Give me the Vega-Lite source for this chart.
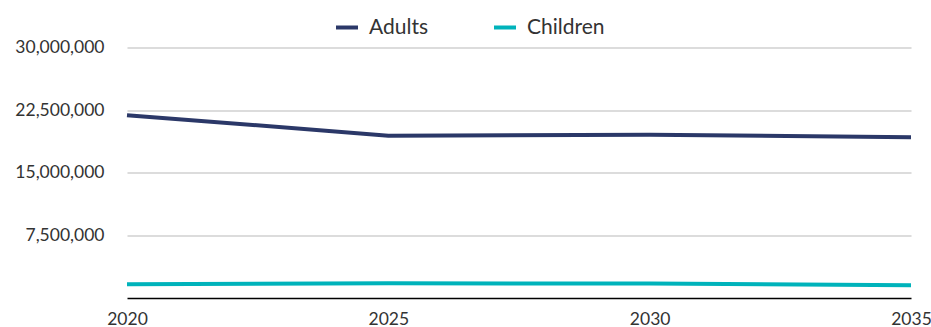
{
  "$schema": "https://vega.github.io/schema/vega-lite/v6.json",
  "autosize": {"type": "none"},
  "width": 784,
  "height": 250.5,
  "padding": {"left": 127, "top": 47.5, "right": 20, "bottom": 29},
  "background": "white",
  "config": {
    "font": "Lato",
    "view": {"stroke": null}
  },
  "data": {
    "values": [
      {"year": 2020, "group": "Adults", "value": 21900000},
      {"year": 2025, "group": "Adults", "value": 19440000},
      {"year": 2030, "group": "Adults", "value": 19560000},
      {"year": 2035, "group": "Adults", "value": 19240000},
      {"year": 2020, "group": "Children", "value": 1640000},
      {"year": 2025, "group": "Children", "value": 1760000},
      {"year": 2030, "group": "Children", "value": 1740000},
      {"year": 2035, "group": "Children", "value": 1520000}
    ]
  },
  "mark": {"type": "line", "strokeWidth": 4},
  "encoding": {
    "x": {
      "field": "year",
      "type": "quantitative",
      "scale": {"domain": [2020, 2035], "nice": false, "zero": false},
      "axis": {
        "title": null,
        "values": [2020, 2025, 2030, 2035],
        "format": "d",
        "grid": false,
        "ticks": false,
        "domainColor": "#000000",
        "domainWidth": 1.5,
        "labelFont": "Lato",
        "labelFontSize": 17.5,
        "labelColor": "#333333",
        "labelPadding": 12,
        "labelFlush": false
      }
    },
    "y": {
      "field": "value",
      "type": "quantitative",
      "scale": {"domain": [0, 30000000], "nice": false},
      "axis": {
        "title": null,
        "values": [7500000, 15000000, 22500000, 30000000],
        "format": ",d",
        "domain": false,
        "ticks": false,
        "gridColor": "#d0d0d0",
        "gridWidth": 1.5,
        "labelFont": "Lato",
        "labelFontSize": 17.5,
        "labelColor": "#333333",
        "labelPadding": 23
      }
    },
    "color": {
      "field": "group",
      "type": "nominal",
      "scale": {"domain": ["Adults", "Children"], "range": ["#2b3868", "#00b3bb"]},
      "legend": {
        "title": null,
        "orient": "none",
        "direction": "horizontal",
        "legendX": 207,
        "legendY": -33,
        "symbolType": "stroke",
        "symbolStrokeWidth": 4,
        "symbolSize": 484,
        "labelFont": "Lato",
        "labelFontSize": 21,
        "labelColor": "#333333",
        "labelOffset": 9,
        "columnPadding": 57
      }
    }
  }
}
